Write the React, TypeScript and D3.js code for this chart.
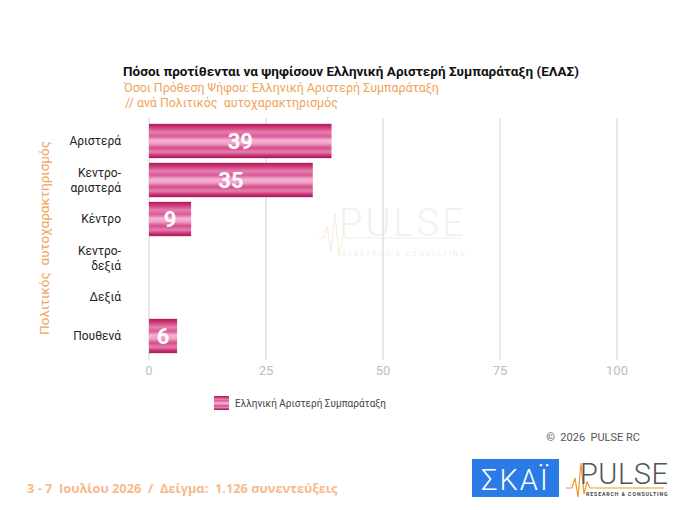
import * as d3 from "d3";

const categories = ["Αριστερά", "Κεντρο-αριστερά", "Κέντρο", "Κεντρο-δεξιά", "Δεξιά", "Πουθενά"];
const categoryLines = [["Αριστερά"], ["Κεντρο-", "αριστερά"], ["Κέντρο"], ["Κεντρο-", "δεξιά"], ["Δεξιά"], ["Πουθενά"]];
const values: (number | null)[] = [39, 35, 9, null, null, 6];
const xTicks = [0, 25, 50, 75, 100];
const seriesName = "Ελληνική Αριστερή Συμπαράταξη";

const W = 680;
const H = 510;
const FONT = "Roboto, 'Noto Sans', sans-serif";
const ORANGE = "#f0a45a";

const gradStops: [number, string][] = [
    [0, "#b3165c"],
    [0.12, "#d0427f"],
    [0.24, "#e77fae"],
    [0.36, "#d9589a"],
    [0.48, "#f5b3d1"],
    [0.58, "#f0a0c4"],
    [0.7, "#d44e8c"],
    [0.82, "#e57fae"],
    [0.92, "#c83276"],
    [1, "#a8145a"],
];

export default function App() {
    const x = d3.scaleLinear().domain([0, 100]).range([149, 617]);
    const y = d3.scaleBand<string>().domain(categories).range([121.5, 355.5]).paddingInner(0.12).paddingOuter(0.06);
    const gridTop = 118;
    const gridBottom = 360;

    return (
        <svg width={W} height={H} style={{ display: "block", margin: "-8px" }} fontFamily={FONT}>
            <defs>
                <linearGradient id="barGrad" x1="0" y1="0" x2="0" y2="1">
                    {gradStops.map(([o, c]) => (
                        <stop key={o} offset={o} stopColor={c} />
                    ))}
                </linearGradient>
            </defs>
            <rect width={W} height={H} fill="#fff" />

            <text x={351} y={76} textAnchor="middle" fontSize={13.5} fontWeight="bold" fill="#111">
                Πόσοι προτίθενται να ψηφίσουν Ελληνική Αριστερή Συμπαράταξη (ΕΛΑΣ)
            </text>
            <text x={124} y={92} fontSize={12.4} fill={ORANGE}>
                Όσοι Πρόθεση Ψήφου: Ελληνική Αριστερή Συμπαράταξη
            </text>
            <text x={125} y={107} fontSize={12.4} fill={ORANGE} xmlSpace="preserve">
                {"// ανά Πολιτικός  αυτοχαρακτηρισμός"}
            </text>

            {/* watermark */}
            <g opacity={0.55}>
                <polyline
                    points="318,238 324,238 327,226 331,252 335,214 339,256 343,236 348,238 460,238"
                    fill="none"
                    stroke="#f6dcb8"
                    strokeWidth={1}
                />
                <text x={339} y={236} fontSize={38} fill="#e6e6e6" letterSpacing={3} fontWeight={300}>
                    PULSE
                </text>
                <text x={342} y={256} fontSize={6.5} fill="#e2e2e2" letterSpacing={2.2}>
                    RESEARCH &amp; CONSULTING
                </text>
            </g>

            {xTicks.map((t) => (
                <g key={t}>
                    <line x1={x(t)} x2={x(t)} y1={gridTop} y2={gridBottom} stroke="#e3e3e3" strokeWidth={1.6} />
                    <text x={x(t)} y={375} textAnchor="middle" fontSize={13} fill="#bdbdbd">
                        {t}
                    </text>
                </g>
            ))}

            {categories.map((c, i) => {
                const lines = categoryLines[i];
                const cy = (y(c) ?? 0) + y.bandwidth() / 2;
                const v = values[i];
                return (
                    <g key={c}>
                        <text x={121} textAnchor="end" fontSize={12} fill="#222">
                            {lines.map((l, j) => (
                                <tspan key={j} x={121} y={cy + 4 + (j - (lines.length - 1) / 2) * 15}>
                                    {l}
                                </tspan>
                            ))}
                        </text>
                        {v != null && (
                            <>
                                <rect x={x(0)} y={y(c)} width={x(v) - x(0)} height={y.bandwidth()} fill="url(#barGrad)" />
                                <text
                                    x={(x(0) + x(v)) / 2}
                                    y={cy + 8}
                                    textAnchor="middle"
                                    fontSize={22}
                                    fontWeight="bold"
                                    fill="#fff"
                                >
                                    {v}
                                </text>
                            </>
                        )}
                    </g>
                );
            })}

            <text
                transform={`translate(49,238) rotate(-90)`}
                textAnchor="middle"
                fontSize={13.5}
                fill={ORANGE}
                xmlSpace="preserve"
            >
                {"Πολιτικός  αυτοχαρακτηρισμός"}
            </text>

            {/* legend */}
            <rect x={214} y={396} width={15} height={14} fill="url(#barGrad)" />
            <text x={235} y={407} fontSize={10} fill="#444">
                {seriesName}
            </text>

            <text x={640} y={441} textAnchor="end" fontSize={11} fill="#555" xmlSpace="preserve">
                {"©  2026  PULSE RC"}
            </text>

            <text x={27} y={493} fontSize={12.8} fontWeight="bold" fill="#f7b98a" fontFamily="'Open Sans', sans-serif" xmlSpace="preserve">
                {"3 - 7  Ιουλίου 2026  /  Δείγμα:  1.126 συνεντεύξεις"}
            </text>

            {/* logos */}
            <rect x={472} y={459} width={87} height={38} fill="#2a7be6" />
            <text x={515.5} y={490} textAnchor="middle" fontSize={29} fill="#fff" fontWeight={300} letterSpacing={2}>
                ΣΚΑΪ
            </text>
            <polyline
                points="566,488 572,488 575,478 578,497 581,463 584,494 587,482 590,488 664,488"
                fill="none"
                stroke="#f0962e"
                strokeWidth={1.2}
            />
            <text x={580} y={484} fontSize={29} fill="#555" letterSpacing={0.5} fontWeight={300}>
                PULSE
            </text>
            <text x={586} y={496} fontSize={5.2} fill="#444" letterSpacing={0.9} fontWeight="bold">
                RESEARCH &amp; CONSULTING
            </text>
        </svg>
    );
}
